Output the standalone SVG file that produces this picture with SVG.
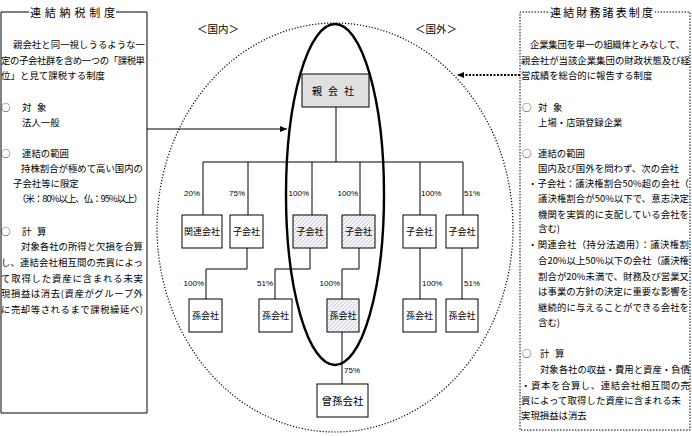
<svg xmlns="http://www.w3.org/2000/svg" width="692" height="436" viewBox="0 0 692 436">
<style>
text{font-family:"Noto Sans CJK JP","Noto Sans CJK SC",sans-serif;fill:#000}
.t{font-size:9.4px}
.ttl{font-size:11px}
.n{font-size:9px;text-anchor:middle}
.p{font-family:"Liberation Sans",Arial,sans-serif;font-size:8px}
.box{fill:#fff;stroke:#000;stroke-width:1}
.hat{fill:url(#hatch);stroke:#000;stroke-width:1}
.ln{fill:none;stroke:#000;stroke-width:1}
</style>
<defs>
<pattern id="hatch" patternUnits="userSpaceOnUse" width="4" height="4">
<rect width="4" height="4" fill="#f4f4fc"/>
<path d="M-1,1 L1,-1 M0,4 L4,0 M3,5 L5,3" stroke="#c4c4ee" stroke-width="0.9"/>
</pattern>
<marker id="ah" markerWidth="8" markerHeight="8" refX="7" refY="4" orient="auto" markerUnits="userSpaceOnUse">
<path d="M0,1 L7,4 L0,7 Z" fill="#000"/>
</marker>
</defs>

<!-- big dotted circle and thick ellipse -->
<g id="scope">
<ellipse cx="335" cy="227.5" rx="178" ry="204.5" fill="none" stroke="#000" stroke-width="1.2" stroke-dasharray="1.2,1.8"/>
<ellipse cx="335" cy="194.5" rx="49" ry="170.5" fill="none" stroke="#000" stroke-width="2.4"/>
<text class="ttl" x="218" y="33" text-anchor="middle" style="font-size:10.5px">＜国内＞</text>
<text class="ttl" x="436" y="33" text-anchor="middle" style="font-size:10.5px">＜国外＞</text>
</g>

<!-- left panel -->
<g id="left-panel">
<path class="ln" d="M1,12 H29 M116,12 H147 V413 H1 V12"/>
<text class="ttl" x="72.5" y="16.5" text-anchor="middle" textLength="85">連結納税制度</text>
<text class="t" x="13" y="47.5" textLength="132">親会社と同一視しうるような一</text>
<text class="t" x="1" y="63.5" textLength="144">定の子会社群を含め一つの「課税単</text>
<text class="t" x="1" y="78.5" textLength="104">位」と見て課税する制度</text>
<text class="t" x="1" y="110.5">○</text>
<text class="t" x="22" y="110.5">対</text>
<text class="t" x="37" y="110.5">象</text>
<text class="t" x="22" y="125.5">法人一般</text>
<text class="t" x="1" y="156.5">○</text>
<text class="t" x="22" y="156.5">連結の範囲</text>
<text class="t" x="21" y="171.5" textLength="122">持株割合が極めて高い国内の</text>
<text class="t" x="13" y="186.5">子会社等に限定</text>
<text class="t" x="17" y="201.5" textLength="126">（米：80%以上、仏：95%以上）</text>
<text class="t" x="1" y="234.5">○</text>
<text class="t" x="22" y="234.5">計</text>
<text class="t" x="37" y="234.5">算</text>
<text class="t" x="21" y="249.5" textLength="122">対象各社の所得と欠損を合算</text>
<text class="t" x="1" y="265.5" textLength="142">し、連結会社相互間の売買によっ</text>
<text class="t" x="1" y="281.5" textLength="142">て取得した資産に含まれる未実</text>
<text class="t" x="1" y="296.5" textLength="142">現損益は消去(資産がグループ外</text>
<text class="t" x="1" y="312.5" textLength="142">に売却等されるまで課税繰延べ)</text>
</g>

<!-- right panel -->
<g id="right-panel">
<path d="M548,12 H520 V430 H690 V12 H655" fill="none" stroke="#000" stroke-width="1" stroke-dasharray="1.5,1.5"/>
<text class="ttl" x="601.5" y="16.5" text-anchor="middle" textLength="103">連結財務諸表制度</text>
<text class="t" x="530" y="47.5" textLength="155">企業集団を単一の組織体とみなして、</text>
<text class="t" x="521" y="63.5" textLength="169">親会社が当該企業集団の財政状態及び経</text>
<text class="t" x="521" y="78.5">営成績を総合的に報告する制度</text>
<text class="t" x="522" y="110.5">○</text>
<text class="t" x="538" y="110.5">対</text>
<text class="t" x="553" y="110.5">象</text>
<text class="t" x="538" y="125.5">上場・店頭登録企業</text>
<text class="t" x="522" y="156.5">○</text>
<text class="t" x="538" y="156.5">連結の範囲</text>
<text class="t" x="538" y="171.5" textLength="141">国内及び国外を問わず、次の会社</text>
<text class="t" x="528" y="186.5" textLength="161">・子会社：議決権割合50%超の会社（</text>
<text class="t" x="538" y="201.5" textLength="151">議決権割合が50%以下で、意志決定</text>
<text class="t" x="538" y="217.5" textLength="151">機関を実質的に支配している会社を</text>
<text class="t" x="538" y="232">含む)</text>
<text class="t" x="528" y="248" textLength="161">・関連会社（持分法適用）：議決権割</text>
<text class="t" x="538" y="263.5" textLength="151">合20%以上50%以下の会社（議決権</text>
<text class="t" x="538" y="279.5" textLength="151">割合が20%未満で、財務及び営業又</text>
<text class="t" x="538" y="294.5" textLength="151">は事業の方針の決定に重要な影響を</text>
<text class="t" x="538" y="310.5" textLength="151">継続的に与えることができる会社を</text>
<text class="t" x="538" y="325.5">含む)</text>
<text class="t" x="522" y="356.5">○</text>
<text class="t" x="540" y="356.5">計</text>
<text class="t" x="555" y="356.5">算</text>
<text class="t" x="540" y="372.5" textLength="150">対象各社の収益・費用と資産・負債</text>
<text class="t" x="521" y="388.5" textLength="169">・資本を合算し、連結会社相互間の売</text>
<text class="t" x="521" y="403.5" textLength="160">買によって取得した資産に含まれる未</text>
<text class="t" x="521" y="418.5">実現損益は消去</text>
</g>

<!-- connectors -->
<g id="connectors">
<path class="ln" d="M336,107 V162 M203,162 H463 M203,162 V215 M248,162 V215 M312,162 V215 M360,162 V215 M420,162 V215 M463,162 V215"/>
<path class="ln" d="M247,248 V269 H206 V299 M310,248 V269 H275 V299 M359,248 V269 H342 V299 M420,248 V299 M462,248 V299 M342,332 V384"/>
<path d="M147,129 H287" fill="none" stroke="#000" stroke-width="1" marker-end="url(#ah)"/>
<path d="M520,75 H457" fill="none" stroke="#000" stroke-width="2" stroke-dasharray="2,1.5" marker-end="url(#ah)"/>
<text class="p" x="200" y="196" text-anchor="end">20%</text>
<text class="p" x="245" y="196" text-anchor="end">75%</text>
<text class="p" x="309" y="196" text-anchor="end">100%</text>
<text class="p" x="358" y="196" text-anchor="end">100%</text>
<text class="p" x="421" y="196">100%</text>
<text class="p" x="464" y="196">51%</text>
<text class="p" x="204" y="286" text-anchor="end">100%</text>
<text class="p" x="273" y="286" text-anchor="end">51%</text>
<text class="p" x="340" y="286" text-anchor="end">100%</text>
<text class="p" x="422" y="286">100%</text>
<text class="p" x="464" y="286">51%</text>
<text class="p" x="344" y="373">75%</text>
</g>

<!-- nodes -->
<g id="parent"><rect x="302" y="74" width="67" height="33" fill="#e0e0e0" stroke="#000"/><text class="n" x="336" y="94.5" style="font-size:10px" letter-spacing="6">親会社</text></g>
<g id="affiliate"><rect class="box" x="182" y="215" width="40" height="33"/><text class="n" x="202" y="235">関連会社</text></g>
<g id="sub1"><rect class="box" x="230" y="215" width="33" height="33"/><text class="n" x="246.5" y="235">子会社</text></g>
<g id="sub2"><rect class="hat" x="293" y="215" width="34" height="33"/><text class="n" x="310" y="235">子会社</text></g>
<g id="sub3"><rect class="hat" x="342" y="215" width="33" height="33"/><text class="n" x="358.5" y="235">子会社</text></g>
<g id="sub4"><rect class="box" x="403" y="215" width="33" height="33"/><text class="n" x="419.5" y="235">子会社</text></g>
<g id="sub5"><rect class="box" x="446" y="215" width="32" height="33"/><text class="n" x="462" y="235">子会社</text></g>
<g id="gsub1"><rect class="box" x="189" y="299" width="33" height="33"/><text class="n" x="205.5" y="319">孫会社</text></g>
<g id="gsub2"><rect class="box" x="259" y="299" width="33" height="33"/><text class="n" x="275.5" y="319">孫会社</text></g>
<g id="gsub3"><rect class="hat" x="327" y="299" width="32" height="33"/><text class="n" x="343" y="319">孫会社</text></g>
<g id="gsub4"><rect class="box" x="403" y="299" width="33" height="33"/><text class="n" x="419.5" y="319">孫会社</text></g>
<g id="gsub5"><rect class="box" x="446" y="299" width="32" height="33"/><text class="n" x="462" y="319">孫会社</text></g>
<g id="ggsub"><rect class="box" x="317" y="384" width="51" height="33"/><text class="n" x="342.5" y="404.5" style="font-size:10.5px">曾孫会社</text></g>
</svg>
